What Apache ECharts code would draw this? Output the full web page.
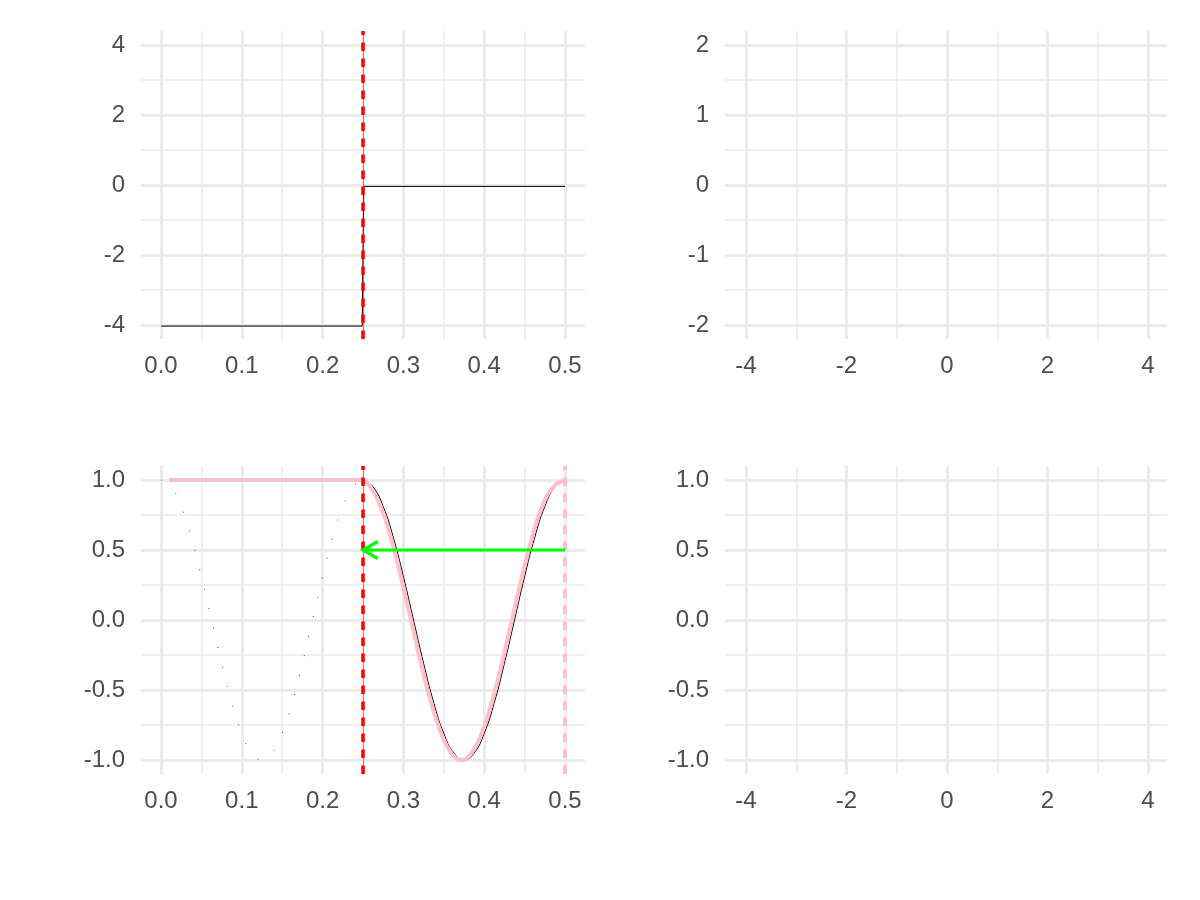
<!DOCTYPE html>
<html>
<head>
<meta charset="utf-8">
<script src="https://cdn.jsdelivr.net/npm/echarts@6/dist/echarts.min.js"></script>
<style>
  html, body { margin: 0; padding: 0; background: #ffffff; }
  #chart { width: 1200px; height: 900px; }
</style>
</head>
<body>
<div id="chart"></div>
<script>
// ---------- data ----------
// top-left panel: step signal
const stepX = [0, 0.249, 0.251, 0.5];
const stepY = [-4.03, -4.03, -0.04, -0.04];

// bottom-left panel: faint black wave on [0, 0.25]
const ghostX = [0, 0.0125, 0.025, 0.0375, 0.05, 0.0625, 0.075, 0.0875, 0.1, 0.1125, 0.125,
                0.1375, 0.15, 0.1625, 0.175, 0.1875, 0.2, 0.2125, 0.225, 0.2375, 0.25];
const ghostY = [1, 0.95, 0.81, 0.59, 0.31, 0, -0.31, -0.59, -0.81, -0.95, -1,
                -0.95, -0.81, -0.59, -0.31, 0, 0.31, 0.59, 0.81, 0.95, 1];

// bottom-left panel: black wave on [0.25, 0.5]
const waveX = [0.25, 0.2625, 0.275, 0.2875, 0.3, 0.3125, 0.325, 0.3375, 0.35, 0.3625, 0.375,
               0.3875, 0.4, 0.4125, 0.425, 0.4375, 0.45, 0.4625, 0.475, 0.4875, 0.5];
const waveY = [1, 0.95, 0.81, 0.59, 0.31, 0, -0.31, -0.59, -0.81, -0.95, -1,
               -0.95, -0.81, -0.59, -0.31, 0, 0.31, 0.59, 0.81, 0.95, 1];

// bottom-left panel: pink reconstruction (flat part, then wave slightly ahead of the black one)
const pinkFlatX = [0.01, 0.25];
const pinkFlatY = [1, 1];
const pinkWaveX = [0.25, 0.2593, 0.2718, 0.2843, 0.2968, 0.3093, 0.3218, 0.3343, 0.3468, 0.3593, 0.3718,
                   0.3843, 0.3968, 0.4093, 0.4218, 0.4343, 0.4468, 0.4593, 0.4718, 0.4855, 0.5];
const pinkWaveY = [1, 0.95, 0.81, 0.59, 0.31, 0, -0.31, -0.59, -0.81, -0.95, -1,
                   -0.95, -0.81, -0.59, -0.31, 0, 0.31, 0.59, 0.81, 0.95, 1];

// vertical reference lines
const redLineX = 0.25;
const pinkLineX = 0.5;

// green arrow: from (0.5, 0.5) to (0.25, 0.5)
const arrowFrom = [0.5, 0.5];
const arrowTo = [0.25, 0.5];

// axis ranges / breaks
const leftXRange = [0, 0.5];     const leftXStep = 0.1;
const rightXRange = [-4, 4];     const rightXStep = 2;
const tlYRange = [-4, 4];        const tlYStep = 2;
const trYRange = [-2, 2];        const trYStep = 1;
const bYRange = [-1, 1];         const bYStep = 0.5;
const tlYPad = 0.4, trYPad = 0.2, bYPad = 0.1;

// ---------- styles ----------
const TXT = { color: '#4D4D4D', fontSize: 24, fontFamily: 'Liberation Sans, Arial, sans-serif' };
const GRIDCOL = '#EBEBEB';

function zip(xs, ys) { return xs.map((x, i) => [x, ys[i]]); }

function hiddenAxis(extra) {
  return Object.assign({
    type: 'value', show: true,
    axisLine: { show: false }, axisTick: { show: false },
    axisLabel: { show: false }, splitLine: { show: false }
  }, extra);
}
function shownX(gridIndex, range, step, fmt) {
  return {
    type: 'value', gridIndex, min: range[0], max: range[1], interval: step,
    axisLine: { show: false }, axisTick: { show: false },
    axisLabel: Object.assign({ margin: 15, formatter: fmt }, TXT),
    splitLine: { show: true, lineStyle: { color: GRIDCOL, width: 3 } },
    minorTick: { show: false, splitNumber: 2 },
    minorSplitLine: { show: true, lineStyle: { color: GRIDCOL, width: 1.5 } }
  };
}
function shownY(gridIndex, range, step, fmt) {
  return {
    type: 'value', gridIndex, min: range[0], max: range[1], interval: step,
    axisLine: { show: false }, axisTick: { show: false },
    axisLabel: Object.assign({ margin: 16, formatter: fmt }, TXT),
    splitLine: { show: true, lineStyle: { color: GRIDCOL, width: 3 } },
    minorTick: { show: false, splitNumber: 2 },
    minorSplitLine: { show: true, lineStyle: { color: GRIDCOL, width: 1.5 } }
  };
}
const f1 = v => Number(v).toFixed(1);
const f0 = v => String(Math.round(v));

// grids: even = x-lines + data, odd = y-lines
const grids = [
  { left: 161, width: 404, top: 31, height: 308 },   // 0 TL data
  { left: 141, width: 444, top: 45, height: 280 },   // 1 TL y-lines
  { left: 746, width: 402, top: 31, height: 308 },   // 2 TR
  { left: 725, width: 442, top: 45, height: 280 },   // 3 TR y-lines
  { left: 161, width: 404, top: 466, height: 308 },  // 4 BL data
  { left: 141, width: 444, top: 480, height: 280 },  // 5 BL y-lines
  { left: 746, width: 402, top: 466, height: 308 },  // 6 BR
  { left: 725, width: 442, top: 480, height: 280 }   // 7 BR y-lines
];

const xAxes = [
  shownX(0, leftXRange, leftXStep, f1),
  hiddenAxis({ gridIndex: 1, min: 0, max: 1 }),
  shownX(2, rightXRange, rightXStep, f0),
  hiddenAxis({ gridIndex: 3, min: 0, max: 1 }),
  shownX(4, leftXRange, leftXStep, f1),
  hiddenAxis({ gridIndex: 5, min: 0, max: 1 }),
  shownX(6, rightXRange, rightXStep, f0),
  hiddenAxis({ gridIndex: 7, min: 0, max: 1 })
];
const yAxes = [
  hiddenAxis({ gridIndex: 0, min: tlYRange[0] - tlYPad, max: tlYRange[1] + tlYPad }),
  shownY(1, tlYRange, tlYStep, f0),
  hiddenAxis({ gridIndex: 2, min: trYRange[0] - trYPad, max: trYRange[1] + trYPad }),
  shownY(3, trYRange, trYStep, f0),
  hiddenAxis({ gridIndex: 4, min: bYRange[0] - bYPad, max: bYRange[1] + bYPad }),
  shownY(5, bYRange, bYStep, f1),
  hiddenAxis({ gridIndex: 6, min: bYRange[0] - bYPad, max: bYRange[1] + bYPad }),
  shownY(7, bYRange, bYStep, f1)
];

function vline(xi, x, color, width, type, z) {
  return {
    type: 'line', xAxisIndex: xi, yAxisIndex: xi, data: [], z: z,
    markLine: {
      silent: true, symbol: 'none', animation: false,
      label: { show: false },
      lineStyle: { color: color, width: width, type: type, cap: 'butt' },
      data: [{ xAxis: x }]
    }
  };
}

const series = [
  // top-left
  { type: 'line', xAxisIndex: 0, yAxisIndex: 0, data: zip(stepX, stepY), showSymbol: false,
    lineStyle: { color: '#000000', width: 1 }, z: 2 },
  vline(0, redLineX, 'rgba(255,0,0,0.55)', 1.2, 'solid', 4),
  vline(0, redLineX, '#FF0000', 3.5, [8.5, 7.5], 5),

  // bottom-left
  { type: 'line', xAxisIndex: 4, yAxisIndex: 4, data: zip(ghostX, ghostY), showSymbol: false, smooth: true,
    lineStyle: { color: '#000000', width: 1, type: [1, 19], opacity: 0.7 }, z: 2 },
  { type: 'line', xAxisIndex: 4, yAxisIndex: 4, data: zip(waveX, waveY), showSymbol: false, smooth: true,
    lineStyle: { color: '#000000', width: 1 }, z: 2 },
  { type: 'line', xAxisIndex: 4, yAxisIndex: 4, data: zip(pinkFlatX, pinkFlatY), showSymbol: false,
    lineStyle: { color: '#FFC0CB', width: 4 }, z: 3 },
  { type: 'line', xAxisIndex: 4, yAxisIndex: 4, data: zip(pinkWaveX, pinkWaveY), showSymbol: false, smooth: true,
    lineStyle: { color: '#FFC0CB', width: 4 }, z: 3 },
  vline(4, pinkLineX, '#FFC0CB', 4, [8.5, 7.5], 4),
  vline(4, redLineX, 'rgba(255,0,0,0.55)', 1.2, 'solid', 4),
  vline(4, redLineX, '#FF0000', 3.5, [8.5, 7.5], 5),
  {
    type: 'custom', xAxisIndex: 4, yAxisIndex: 4, z: 6, silent: true,
    data: [[arrowFrom[0], arrowFrom[1], arrowTo[0], arrowTo[1]]],
    encode: { x: [0, 2], y: [1, 3] },
    renderItem: function (params, api) {
      const p0 = api.coord([api.value(0), api.value(1)]);
      const p1 = api.coord([api.value(2), api.value(3)]);
      const ang = Math.atan2(p0[1] - p1[1], p0[0] - p1[0]);
      const L = 17, a = Math.PI / 6;
      const u = [p1[0] + L * Math.cos(ang + a), p1[1] + L * Math.sin(ang + a)];
      const d = [p1[0] + L * Math.cos(ang - a), p1[1] + L * Math.sin(ang - a)];
      const st = { stroke: '#00FF00', lineWidth: 3.2, fill: null, lineCap: 'butt', lineJoin: 'miter' };
      return {
        type: 'group',
        children: [
          { type: 'line', shape: { x1: p0[0], y1: p0[1], x2: p1[0], y2: p1[1] }, style: st },
          { type: 'polyline', shape: { points: [u, p1, d] }, style: st }
        ]
      };
    }
  }
];

const chart = echarts.init(document.getElementById('chart'), null, { renderer: 'canvas' });
chart.setOption({
  animation: false,
  backgroundColor: '#ffffff',
  grid: grids,
  xAxis: xAxes,
  yAxis: yAxes,
  series: series
});
</script>
</body>
</html>
